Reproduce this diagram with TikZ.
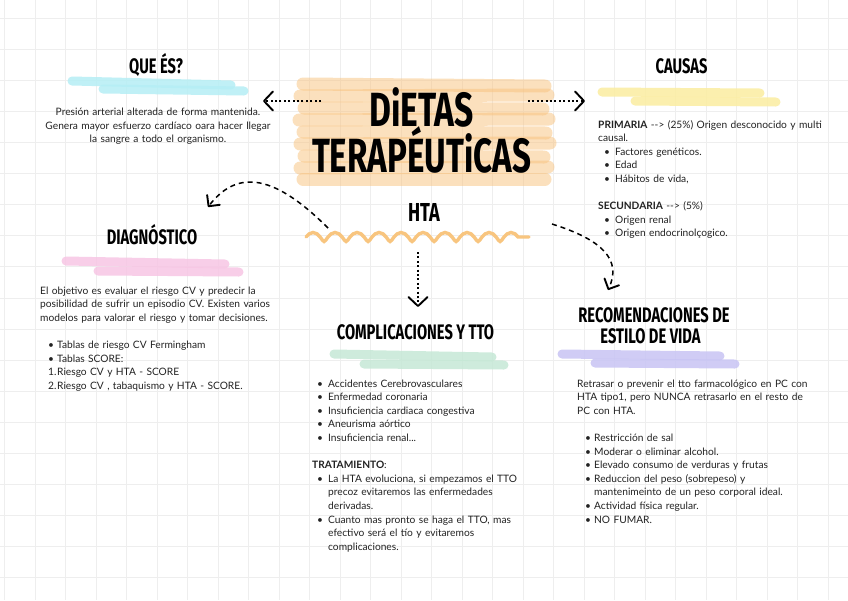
\documentclass[tikz,border=0pt]{standalone}
\usepackage{fontspec}
\usepackage{graphicx}
\setmainfont{Lato}
\newfontfamily\hfont{Fira Sans}
\usetikzlibrary{arrows.meta,decorations.pathmorphing}
\definecolor{gridc}{HTML}{EEEEEE}
\definecolor{txtc}{HTML}{222222}
\definecolor{hcyan}{HTML}{B5EEF5}
\definecolor{hyellow}{HTML}{FBEDA0}
\definecolor{hpink}{HTML}{F7C6E4}
\definecolor{hgreen}{HTML}{C6E8D6}
\definecolor{hpurple}{HTML}{C8C4F4}
\definecolor{horange}{HTML}{F9C27C}
\definecolor{hwave}{HTML}{F8C57F}
\newcommand{\hs}[1]{\scalebox{0.7}[1]{#1}}
\newcommand{\bi}[2]{\makebox[#2pt][l]{\hspace*{#1pt}\textbullet}}
\newcommand{\nm}[1]{\makebox[17pt][l]{\hspace*{8pt}#1}}
\tikzset{
  hd/.style={font=\hfont\bfseries\fontsize{21}{21}\selectfont, text=black, inner sep=0pt, anchor=base},
  ttl/.style={font=\hfont\bfseries\fontsize{48}{48}\selectfont, text=black, inner sep=0pt, anchor=base},
  body/.style={font=\fontsize{10.2}{13.6}\selectfont, text=txtc, inner sep=0pt, anchor=base west, text width=270pt, align=left},
  bodyc/.style={font=\fontsize{10.2}{13.6}\selectfont, text=txtc, inner sep=0pt, anchor=base, text width=260pt, align=center},
  hl/.style={line width=9pt, line cap=round, opacity=0.85},
  ob/.style={line width=13pt, line cap=round, draw=horange, opacity=0.5},
  dotarrow/.style={line width=1.6pt, dash pattern=on 2pt off 2.4pt, -{Straight Barb[round,length=9pt,width=19pt,line width=1.9pt]}},
  dasharrow/.style={line width=1.5pt, dash pattern=on 5pt off 4pt, -{Straight Barb[round,length=8pt,width=16pt,line width=1.9pt]}},
}
\begin{document}
\begin{tikzpicture}[x=1pt,y=-1pt]
\useasboundingbox (0,0) rectangle (848,600);
\fill[white] (0,0) rectangle (848,600);
% grid
\foreach \i in {0,...,27} \draw[gridc, line width=0.8pt] ({4.5+30.5*\i},0) -- ++(0,600);
\foreach \j in {0,...,18} \draw[gridc, line width=0.8pt] (0,{18+31.1*\j}) -- ++(848,0);

% title highlight
\draw[ob] (303,84) -- (545,86);
\draw[ob] (300,96) -- (548,95);
\draw[ob] (304,108) -- (543,109);
\draw[ob] (299,120) -- (549,119);
\draw[ob] (303,132) -- (546,133);
\draw[ob] (300,144) -- (550,143);
\draw[ob] (304,156) -- (544,157);
\draw[ob] (300,168) -- (548,167);
\draw[ob] (303,179) -- (545,179);

% section highlights
\draw[hl, hcyan] (72,81) -- (231,85);
\draw[hl, hcyan] (103,89) -- (244,91);
\draw[hl, hyellow] (602,92) -- (760,93);
\draw[hl, hyellow] (635,101) -- (776,102);
\draw[hl, hpink] (66,261) -- (225,264);
\draw[hl, hpink] (98,271) -- (239,272);
\draw[hl, hgreen] (334,354) -- (492,357);
\draw[hl, hgreen] (364,364) -- (504,365);
\draw[hl, hpurple] (562,354) -- (720,356);
\draw[hl, hpurple] (595,363) -- (735,364);

% title
\node[ttl] (t1) at (421.5,126) {\scalebox{0.7}[1]{DiETAS}};
\node[ttl] (t2) at (421.5,172) {\scalebox{0.69}[1]{TERAPÉUTiCAS}};

% headings
\node[hd] (que) at (156,73.5) {\hs{QUE ÉS?}};
\node[hd] (causas) at (681.5,73.5) {\hs{CAUSAS}};
\node[hd] (diag) at (152,244) {\hs{DIAGNÓSTICO}};
\node[hd, font=\hfont\bfseries\fontsize{26}{26}\selectfont] (hta) at (424,221) {\hs{HTA}};
\node[hd] (comp) at (415.5,339) {\hs{COMPLICACIONES Y TTO}};
\node[hd] (rec1) at (654,322) {\hs{RECOMENDACIONES DE}};
\node[hd] (rec2) at (650.5,343) {\hs{ESTILO DE VIDA}};

% wave under HTA
\coordinate (wl) at (306,237);
\coordinate (wr) at (529,237);
\draw[hwave, line width=3.4pt, line cap=round, decorate, decoration={coil, aspect=0.35, segment length=22pt, amplitude=4.5pt}] (wl) -- (wr);

% body texts
\node[bodyc] (quet) at (158,115.5) {Presión arterial alterada de forma mantenida.\\Genera mayor esfuerzo cardíaco oara hacer llegar\\la sangre a todo el organismo.};

\node[body] (causast) at (598,128) {\textbf{PRIMARIA} -{}-{}> (25\%) Origen desconocido y multi\\
causal.\\
\bi{6}{17}Factores genéticos.\\
\bi{6}{17}Edad\\
\bi{6}{17}Hábitos de vida,\\[13.6pt]
\textbf{SECUNDARIA} -{}-{}> (5\%)\\
\bi{6}{17}Origen renal\\
\bi{6}{17}Origen endocrinolçogico.};

\node[body] (diagt) at (40,294) {El objetivo es evaluar el riesgo CV y predecir la\\
posibilidad de sufrir un episodio CV. Existen varios\\
modelos para valorar el riesgo y tomar decisiones.\\[13.6pt]
\bi{8}{17}Tablas de riesgo CV Fermingham\\
\bi{8}{17}Tablas SCORE:\\
\nm{1.}Riesgo CV y HTA - SCORE\\
\nm{2.}Riesgo CV , tabaquismo y HTA - SCORE.};

\node[body] (compt) at (312,387) {\bi{5}{16}Accidentes Cerebrovasculares\\
\bi{5}{16}Enfermedad coronaria\\
\bi{5}{16}Insuficiencia cardiaca congestiva\\
\bi{5}{16}Aneurisma aórtico\\
\bi{5}{16}Insuficiencia renal...\\[13.6pt]
\textbf{TRATAMIENTO}:\\
\bi{5}{16}La HTA evoluciona, si empezamos el TTO\\
\hspace*{16pt}precoz evitaremos las enfermedades\\
\hspace*{16pt}derivadas.\\
\bi{5}{16}Cuanto mas pronto se haga el TTO, mas\\
\hspace*{16pt}efectivo será el tío y evitaremos\\
\hspace*{16pt}complicaciones.};

\node[body] (rect) at (577,387) {Retrasar o prevenir el tto farmacológico en PC con\\
HTA tipo1, pero NUNCA retrasarlo en el resto de\\
PC con HTA.\\[13.6pt]
\bi{8}{17}Restricción de sal\\
\bi{8}{17}Moderar o eliminar alcohol.\\
\bi{8}{17}Elevado consumo de verduras y frutas\\
\bi{8}{17}Reduccion del peso (sobrepeso) y\\
\hspace*{17pt}mantenimeinto de un peso corporal ideal.\\
\bi{8}{17}Actividad física regular.\\
\bi{8}{17}NO FUMAR.};

% connectors
\coordinate (aL0) at (321,101);
\coordinate (aL1) at (263,101);
\coordinate (aR0) at (528,101);
\coordinate (aR1) at (585,101);
\coordinate (aD0) at (328,228);
\coordinate (aD1) at (208,207);
\coordinate (aC0) at (418,252);
\coordinate (aC1) at (418,307);
\coordinate (aE0) at (552,224);
\coordinate (aE1) at (608,290);
\draw[dotarrow] (aL0) -- (aL1);
\draw[dotarrow] (aR0) -- (aR1);
\draw[dotarrow] (aC0) -- (aC1);
\draw[dasharrow] (aD0) .. controls (270,170) and (235,172) .. (aD1);
\draw[dasharrow] (aE0) .. controls (603,240) and (622,260) .. (aE1);
\end{tikzpicture}
\end{document}
